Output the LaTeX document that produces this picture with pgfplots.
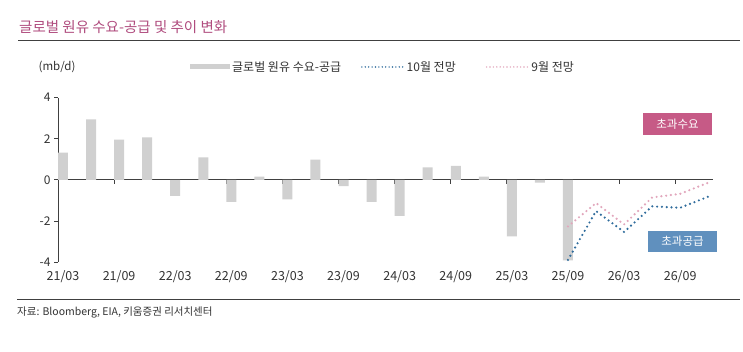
\documentclass[border=0pt]{standalone}
\usepackage{fontspec}
\setmainfont{Noto Sans CJK KR}
\usepackage{pgfplots}
\pgfplotsset{compat=1.18}
\definecolor{barcol}{HTML}{D0D0D0}
\definecolor{bluecol}{HTML}{2F6C9C}
\definecolor{pinkcol}{HTML}{E2A6BC}
\definecolor{titlecol}{HTML}{B04C7E}
\definecolor{boxpink}{HTML}{C65A86}
\definecolor{boxblue}{HTML}{6090BE}
\definecolor{axcol}{HTML}{404040}
\definecolor{txtcol}{HTML}{333333}
\pgfplotstableread{
x y
0 1.33
1 2.94
2 1.96
3 2.07
4 -0.78
5 1.10
6 -1.07
7 0.16
8 -0.95
9 0.99
10 -0.31
11 -1.07
12 -1.75
13 0.61
14 0.68
15 0.16
16 -2.75
17 -0.13
18 -3.92
}\bardata
\pgfplotstableread{
x y
18 -3.90
19 -1.52
20 -2.54
21 -1.29
22 -1.36
23 -0.82
}\octdata
\pgfplotstableread{
x y
18 -2.27
19 -1.13
20 -2.17
21 -0.86
22 -0.68
23 -0.14
}\sepdata
\begin{document}
\begin{tikzpicture}
\fill[white] (0pt,0pt) rectangle (743pt,352pt);
\useasboundingbox (0pt,0pt) rectangle (743pt,352pt);
\node[anchor=base west, inner sep=0pt, text=titlecol, font=\fontsize{14.5}{16}\selectfont] at (19pt,319pt) {글로벌 원유 수요-공급 및 추이 변화};
\draw[black!75, line width=1pt] (18pt,311pt) -- (740pt,311pt);
\node[text=txtcol, font=\fontsize{11.5}{13}\selectfont] at (57pt,285pt) {(mb/d)};
\begin{axis}[
  at={(58pt,90pt)}, anchor=south west, scale only axis,
  width=655pt, height=164.3pt,
  xmin=-0.178, xmax=23.17, ymin=-4, ymax=4,
  axis x line=bottom, axis y line=none,
  x axis line style={draw=none},
  major tick length=0pt,
  xtick={0,2,4,6,8,10,12,14,16,18,20,22},
  xticklabels={21/03,21/09,22/03,22/09,23/03,23/09,24/03,24/09,25/03,25/09,26/03,26/09},
  ytick=\empty,
  xticklabel style={font=\fontsize{12.5}{14}\selectfont, text=txtcol, yshift=-5pt},
]
\end{axis}
\begin{axis}[
  at={(58pt,90pt)}, anchor=south west, scale only axis,
  width=655pt, height=164.3pt,
  xmin=-0.178, xmax=23.17, ymin=-4, ymax=4,
  axis y line=left, axis x line=middle,
  axis line style={-, axcol, line width=0.8pt},
  tick align=outside, major tick length=4pt,
  tick style={axcol, line width=0.8pt},
  hide obscured x ticks=false, hide obscured y ticks=false,
  ytick={-4,-2,0,2,4},
  xtick={1.82,3.82,5.82,7.82,9.82,11.82,13.82,15.82,17.82,19.82,21.82},
  xticklabels={},
  /pgf/number format/assume math mode=true,
  yticklabel style={font=\fontsize{12}{14}\selectfont, text=txtcol},
  legend columns=3,
  legend style={at={(0.2015,1.187)}, anchor=west, draw=none, fill=none,
    inner sep=0pt, font=\fontsize{12}{14}\selectfont, text=txtcol,
    /tikz/column 2/.style={column sep=18pt},
    /tikz/column 4/.style={column sep=28pt}},
]
\addplot[ybar, bar width=10pt, fill=barcol, draw=none,
  legend image code/.code={\fill[barcol] (0pt,-2.5pt) rectangle (40pt,2.5pt);}]
  table[x=x,y=y] {\bardata};
\addlegendentry{글로벌 원유 수요-공급}
\addplot[bluecol, line width=2.4pt, line cap=round, dash pattern=on 0pt off 4.8pt,
  legend image code/.code={\draw[bluecol, line width=1.6pt, line cap=round, dash pattern=on 0pt off 3.4pt] (0pt,0pt) -- (42pt,0pt);}]
  table[x=x,y=y] {\octdata};
\addlegendentry{10월 전망}
\addplot[pinkcol, line width=2.4pt, line cap=round, dash pattern=on 0pt off 4.8pt,
  legend image code/.code={\draw[pinkcol, line width=1.6pt, line cap=round, dash pattern=on 0pt off 3.4pt] (0pt,0pt) -- (42pt,0pt);}]
  table[x=x,y=y] {\sepdata};
\addlegendentry{9월 전망}
\end{axis}
\node[fill=boxpink, text=white, minimum width=69pt, minimum height=22pt, inner sep=0pt, font=\fontsize{11.5}{13}\selectfont] at (677.5pt,228pt) {초과수요};
\node[fill=boxblue, text=white, minimum width=69pt, minimum height=21pt, inner sep=0pt, font=\fontsize{11.5}{13}\selectfont] at (682.5pt,110.5pt) {초과공급};
\draw[black!75, line width=0.9pt] (17pt,53pt) -- (740pt,53pt);
\node[anchor=west, inner sep=0pt, text=txtcol, font=\fontsize{10.5}{12}\selectfont] at (17pt,40pt) {자료: Bloomberg, EIA, 키움증권 리서치센터};
\end{tikzpicture}
\end{document}
